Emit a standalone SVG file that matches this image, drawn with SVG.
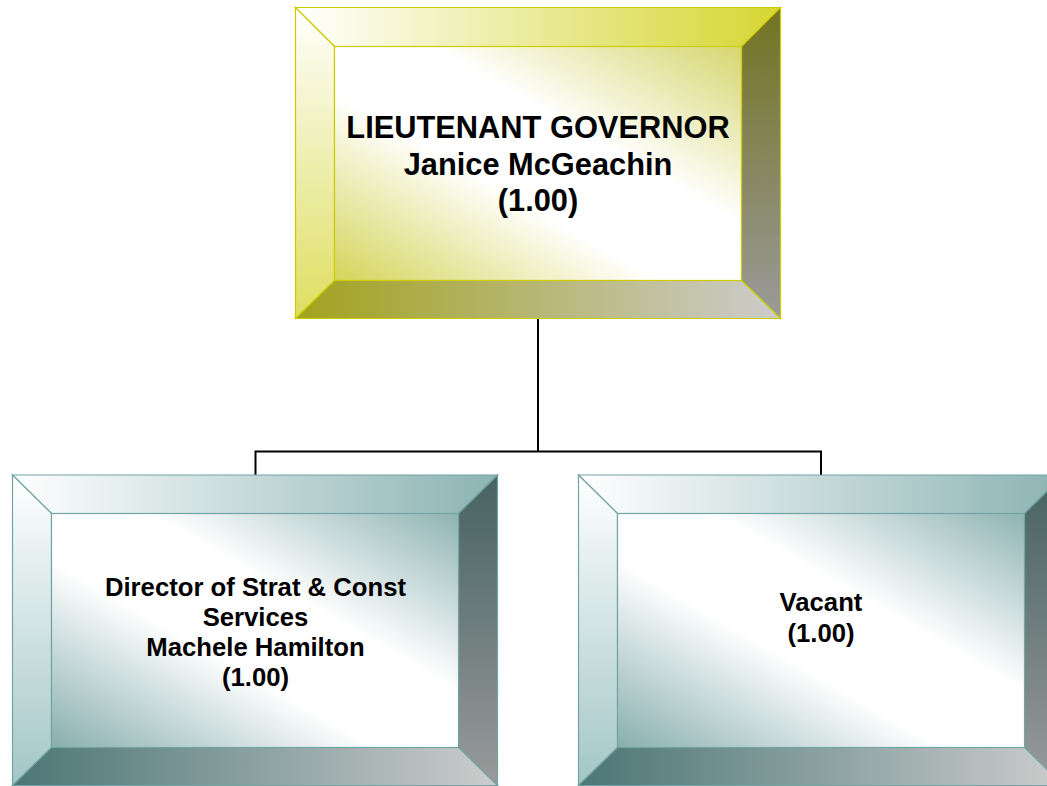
<svg xmlns="http://www.w3.org/2000/svg" width="1047" height="786" viewBox="0 0 1047 786">
<defs>
<linearGradient id="yTop" x1="0" y1="0" x2="1" y2="0"><stop offset="0" stop-color="#ffffff"/><stop offset="1" stop-color="#d6d632"/></linearGradient>
<linearGradient id="yLeft" x1="0" y1="0" x2="0" y2="1"><stop offset="0" stop-color="#ffffff"/><stop offset="1" stop-color="#dede60"/></linearGradient>
<linearGradient id="yRight" x1="0" y1="0" x2="0" y2="1"><stop offset="0" stop-color="#737322"/><stop offset="1" stop-color="#9a9a9a"/></linearGradient>
<linearGradient id="yBottom" x1="0" y1="0" x2="1" y2="0"><stop offset="0" stop-color="#a2a21e"/><stop offset="1" stop-color="#cccccc"/></linearGradient>
<linearGradient id="yFace" x1="0" y1="1" x2="1" y2="0"><stop offset="0" stop-color="#d4d45a"/><stop offset="0.4" stop-color="#ffffff"/><stop offset="0.62" stop-color="#ffffff"/><stop offset="1" stop-color="#d6d670"/></linearGradient>
<linearGradient id="tTop" x1="0" y1="0" x2="1" y2="0"><stop offset="0" stop-color="#ffffff"/><stop offset="1" stop-color="#8cb3b3"/></linearGradient>
<linearGradient id="tLeft" x1="0" y1="0" x2="0" y2="1"><stop offset="0" stop-color="#ffffff"/><stop offset="1" stop-color="#a3c6c6"/></linearGradient>
<linearGradient id="tRight" x1="0" y1="0" x2="0" y2="1"><stop offset="0" stop-color="#466262"/><stop offset="1" stop-color="#9a9a9a"/></linearGradient>
<linearGradient id="tBottom" x1="0" y1="0" x2="1" y2="0"><stop offset="0" stop-color="#4c7676"/><stop offset="1" stop-color="#cccccc"/></linearGradient>
<linearGradient id="tFace" x1="0" y1="1" x2="1" y2="0"><stop offset="0" stop-color="#88aeae"/><stop offset="0.4" stop-color="#ffffff"/><stop offset="0.62" stop-color="#ffffff"/><stop offset="1" stop-color="#8fb3b3"/></linearGradient>
</defs>
<style>
.ys{stroke:#cccc00;stroke-width:1.2}
.ts{stroke:#72a4a4;stroke-width:1.2}
.lbl{font-family:"Liberation Sans",Arial,sans-serif;font-weight:bold;fill:#000;text-anchor:middle}
.big{font-size:30.8px}
.sm{font-size:25.7px}
.conn{fill:none;stroke:#000;stroke-width:2}
</style>
<rect width="1047" height="786" fill="#ffffff"/>
<g id="connectors">
<path class="conn" d="M538 318.5V451.5M255.5 475V451.5H821V475"/>
</g>
<g id="node-lt-governor">
<polygon class="ys" fill="url(#yTop)" points="295.5,7.5 780.5,7.5 741.5,46.5 334.5,46.5"/>
<polygon class="ys" fill="url(#yLeft)" points="295.5,7.5 334.5,46.5 334.5,280.5 295.5,318.5"/>
<polygon class="ys" fill="url(#yRight)" points="780.5,7.5 780.5,318.5 741.5,280.5 741.5,46.5"/>
<polygon class="ys" fill="url(#yBottom)" points="295.5,318.5 334.5,280.5 741.5,280.5 780.5,318.5"/>
<rect class="ys" fill="url(#yFace)" x="334.5" y="46.5" width="407" height="234"/>
<text class="lbl big" x="538" y="138">LIEUTENANT GOVERNOR</text>
<text class="lbl big" x="538" y="175">Janice McGeachin</text>
<text class="lbl big" x="538" y="211">(1.00)</text>
</g>
<g id="node-director">
<polygon class="ts" fill="url(#tTop)" points="12.5,475 497.5,475 458.5,513.5 51.5,513.5"/>
<polygon class="ts" fill="url(#tLeft)" points="12.5,475 51.5,513.5 51.5,747.5 12.5,785.5"/>
<polygon class="ts" fill="url(#tRight)" points="497.5,475 497.5,785.5 458.5,747.5 458.5,513.5"/>
<polygon class="ts" fill="url(#tBottom)" points="12.5,785.5 51.5,747.5 458.5,747.5 497.5,785.5"/>
<rect class="ts" fill="url(#tFace)" x="51.5" y="513.5" width="407" height="234"/>
<text class="lbl sm" x="255.5" y="596">Director of Strat &amp; Const</text>
<text class="lbl sm" x="255.5" y="626">Services</text>
<text class="lbl sm" x="255.5" y="656">Machele Hamilton</text>
<text class="lbl sm" x="255.5" y="686">(1.00)</text>
</g>
<g id="node-vacant">
<polygon class="ts" fill="url(#tTop)" points="578.5,475 1063.5,475 1024.5,513.5 617.5,513.5"/>
<polygon class="ts" fill="url(#tLeft)" points="578.5,475 617.5,513.5 617.5,747.5 578.5,785.5"/>
<polygon class="ts" fill="url(#tRight)" points="1063.5,475 1063.5,785.5 1024.5,747.5 1024.5,513.5"/>
<polygon class="ts" fill="url(#tBottom)" points="578.5,785.5 617.5,747.5 1024.5,747.5 1063.5,785.5"/>
<rect class="ts" fill="url(#tFace)" x="617.5" y="513.5" width="407" height="234"/>
<text class="lbl sm" x="821" y="611">Vacant</text>
<text class="lbl sm" x="821" y="642">(1.00)</text>
</g>
</svg>
